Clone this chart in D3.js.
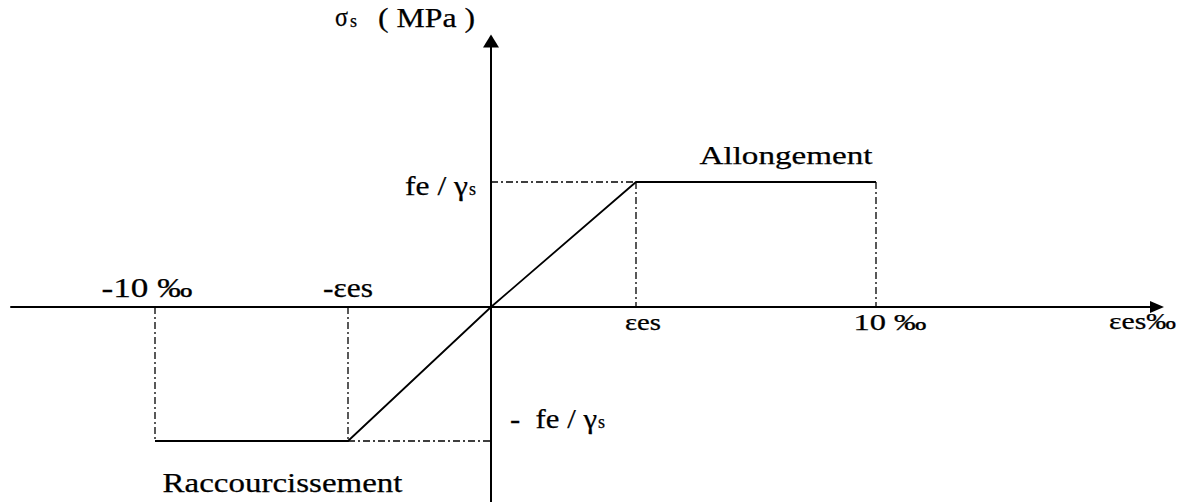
<!DOCTYPE html>
<html>
<head>
<meta charset="utf-8">
<script src="https://cdn.jsdelivr.net/npm/d3@7"></script>
<style>
  body { margin: 0; background: #fff; }
  svg { display: block; }
</style>
</head>
<body>
<svg id="chart" width="1186" height="502" font-family="'Liberation Serif', 'Times New Roman', Tinos, 'DejaVu Serif', serif"></svg>
<script>
/** data (strain in per mille, stress in units of fe/gamma_s) **/
var ees = 4;                                  // elastic limit strain as drawn
var curveStrain = [-10, -ees, 0, ees, 10];
var curveStress = [-1, -1, 0, 1, 1];
var strainTicks = [-10, -ees, ees, 10];
var strainLabels = ["-10 \u2030", "-\u03b5es", "\u03b5es", "10 \u2030"];
var stressTicks = [1, -1];
var zoneLabels = ["Allongement", "Raccourcissement"];

var svg = d3.select("#chart");

// the sketch is not drawn to scale, so each half gets its own segment
var x = d3.scaleLinear()
  .domain([-10, -ees, 0, ees, 10])
  .range([155, 348, 491, 636, 876]);
var y = d3.scaleLinear()
  .domain([-1, 0, 1])
  .range([441, 307, 182]);

var xMin = -14.5, xMax = 17.2;   // axis extent
var yMin = -1.46, yMax = 2.18;

//guides (dash dot)
var guides = [
  [[0, 1], [ees, 1]],
  [[ees, 1], [ees, 0]],
  [[10, 1], [10, 0]],
  [[-10, 0], [-10, -1]],
  [[-ees, 0], [-ees, -1]],
  [[-ees, -1], [0, -1]]
];
var line = d3.line()
  .x(function(d) { return x(d[0]); })
  .y(function(d) { return y(d[1]); });

svg.append("g")
  .selectAll("path")
  .data(guides)
  .enter()
  .append("path")
  .attr("d", line)
  .attr("fill", "none")
  .attr("stroke", "#000")
  .attr("stroke-width", 1.3)
  .attr("stroke-dasharray", "7,3,2,3");

//axes
svg.append("line")
  .attr("x1", x(xMin)).attr("x2", x(xMax) - 6)
  .attr("y1", y(0)).attr("y2", y(0))
  .attr("stroke", "#000").attr("stroke-width", 2);
svg.append("line")
  .attr("x1", x(0)).attr("x2", x(0))
  .attr("y1", y(yMin)).attr("y2", y(yMax) + 6)
  .attr("stroke", "#000").attr("stroke-width", 2);

// arrow heads
var tipX = x(xMax), tipY = y(yMax), ox = x(0), oy = y(0);
svg.append("path")
  .attr("d", "M" + tipX + "," + oy + "L" + (tipX - 14) + "," + (oy - 6) + "L" + (tipX - 14) + "," + (oy + 6) + "Z")
  .attr("fill", "#000");
svg.append("path")
  .attr("d", "M" + ox + "," + tipY + "L" + (ox - 8) + "," + (tipY + 13) + "L" + (ox + 8) + "," + (tipY + 13) + "Z")
  .attr("fill", "#000");

//stress-strain curve
svg.append("path")
  .datum(d3.zip(curveStrain, curveStress))
  .attr("d", line)
  .attr("fill", "none")
  .attr("stroke", "#000")
  .attr("stroke-width", 1.8);

// all text a little heavy, like the scanned sketch
function ink(t) {
  return t.attr("fill", "#000").attr("stroke", "#000").attr("stroke-width", 0.25);
}

//strain tick labels
var tickShift = [-8, 0, 7, 14];
var tickWidth = [91, 50, 36, 73];
var tickSize = [28, 27, 23, 23];
ink(svg.append("g"))
  .selectAll("text")
  .data(strainTicks)
  .enter()
  .append("text")
  .attr("x", function(d, i) { return x(d) + tickShift[i]; })
  .attr("y", function(d) { return d < 0 ? y(0) - 10 : y(0) + 23; })
  .attr("text-anchor", "middle")
  .attr("font-size", function(d, i) { return tickSize[i] + "px"; })
  .attr("textLength", function(d, i) { return tickWidth[i]; })
  .attr("lengthAdjust", "spacingAndGlyphs")
  .text(function(d, i) { return strainLabels[i]; });

// end of strain axis
ink(svg.append("text"))
  .attr("x", x(xMax) - 55).attr("y", y(0) + 22)
  .attr("font-size", "23px")
  .attr("textLength", 67).attr("lengthAdjust", "spacingAndGlyphs")
  .text("\u03b5es\u2030");

//stress labels: main part, then subscript
stressTicks.forEach(function(v) {
  var by = v > 0 ? y(v) + 13 : y(v) - 13;
  var bx = v > 0 ? x(0) - 86 : x(0) + 19;
  var w = v > 0 ? 63 : 87;
  ink(svg.append("text"))
    .attr("x", bx).attr("y", by)
    .attr("font-size", "27px")
    .attr("textLength", w).attr("lengthAdjust", "spacingAndGlyphs")
    .attr("xml:space", "preserve")
    .text(v > 0 ? "fe / \u03b3" : "-  fe / \u03b3");
  ink(svg.append("text"))
    .attr("x", bx + w + 1).attr("y", by)
    .attr("font-size", "18px")
    .text("s");
});

// axis title
ink(svg.append("text"))
  .attr("x", x(0) - 156).attr("y", y(yMax) - 9)
  .attr("font-size", "27px")
  .attr("textLength", 13).attr("lengthAdjust", "spacingAndGlyphs")
  .text("\u03c3");
ink(svg.append("text"))
  .attr("x", x(0) - 141).attr("y", y(yMax) - 8)
  .attr("font-size", "18px")
  .text("s");
ink(svg.append("text"))
  .attr("x", x(0) - 113).attr("y", y(yMax) - 8)
  .attr("font-size", "27px")
  .attr("textLength", 97).attr("lengthAdjust", "spacingAndGlyphs")
  .attr("xml:space", "preserve")
  .text("( MPa )");

//zones
ink(svg.append("text"))
  .attr("x", (x(ees) + x(10)) / 2 + 30).attr("y", y(1) - 18)
  .attr("text-anchor", "middle")
  .attr("font-size", "26px")
  .attr("textLength", 173).attr("lengthAdjust", "spacingAndGlyphs")
  .text(zoneLabels[0]);
ink(svg.append("text"))
  .attr("x", (x(-10) + x(-ees)) / 2 + 31).attr("y", y(-1) + 51)
  .attr("text-anchor", "middle")
  .attr("font-size", "27px")
  .attr("textLength", 240).attr("lengthAdjust", "spacingAndGlyphs")
  .text(zoneLabels[1]);
</script>
</body>
</html>
